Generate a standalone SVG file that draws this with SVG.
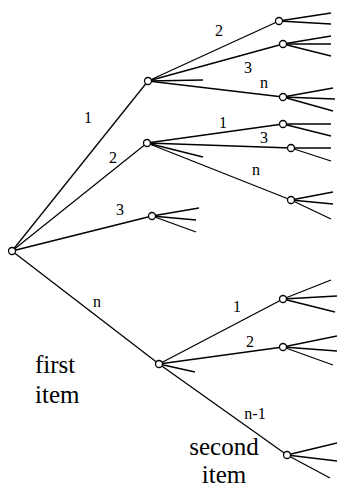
<svg xmlns="http://www.w3.org/2000/svg" width="337" height="489" viewBox="0 0 337 489">
<style>
line{stroke:#000;stroke-width:1.3;fill:none}
circle{fill:#fff;stroke:#000;stroke-width:1.3}
text{font-family:Liberation Serif, Times New Roman, Times, Tinos, Noto Serif, DejaVu Serif, serif;fill:#000}
.lb{font-size:16px;text-anchor:middle}
.big{font-size:25px}
</style>
<rect width="337" height="489" fill="#fff"/>
<g id="connectors">
<line x1="12" y1="251" x2="148" y2="81"/>
<line x1="12" y1="251" x2="147" y2="143"/>
<line x1="12" y1="251" x2="152" y2="216"/>
<line x1="12" y1="251" x2="159" y2="364"/>
<line x1="148" y1="81" x2="279" y2="21"/>
<line x1="148" y1="81" x2="283" y2="44"/>
<line x1="148" y1="81" x2="203" y2="80"/>
<line x1="148" y1="81" x2="283" y2="97"/>
<line x1="147" y1="143" x2="283" y2="124"/>
<line x1="147" y1="143" x2="291" y2="148"/>
<line x1="147" y1="143" x2="203" y2="157"/>
<line x1="147" y1="143" x2="291" y2="200"/>
<line x1="152" y1="216" x2="199" y2="208"/>
<line x1="152" y1="216" x2="196" y2="220"/>
<line x1="152" y1="216" x2="196" y2="232"/>
<line x1="159" y1="364" x2="283" y2="299"/>
<line x1="159" y1="364" x2="283" y2="347"/>
<line x1="159" y1="364" x2="195" y2="372"/>
<line x1="159" y1="364" x2="287" y2="455"/>
<line x1="279" y1="21" x2="331" y2="13"/>
<line x1="279" y1="21" x2="331" y2="24"/>
<line x1="283" y1="44" x2="331" y2="36"/>
<line x1="283" y1="44" x2="331" y2="44"/>
<line x1="283" y1="44" x2="331" y2="56"/>
<line x1="283" y1="97" x2="333" y2="88"/>
<line x1="283" y1="97" x2="335" y2="99"/>
<line x1="283" y1="97" x2="333" y2="111"/>
<line x1="283" y1="124" x2="331" y2="124"/>
<line x1="283" y1="124" x2="331" y2="136"/>
<line x1="291" y1="148" x2="331" y2="148"/>
<line x1="291" y1="148" x2="331" y2="161"/>
<line x1="291" y1="200" x2="333" y2="192"/>
<line x1="291" y1="200" x2="333" y2="204"/>
<line x1="291" y1="200" x2="331" y2="219"/>
<line x1="283" y1="299" x2="331" y2="280"/>
<line x1="283" y1="299" x2="337" y2="296"/>
<line x1="283" y1="299" x2="335" y2="312"/>
<line x1="283" y1="347" x2="337" y2="336"/>
<line x1="283" y1="347" x2="337" y2="351"/>
<line x1="283" y1="347" x2="333" y2="365"/>
<line x1="287" y1="455" x2="337" y2="443"/>
<line x1="287" y1="455" x2="337" y2="461"/>
<line x1="287" y1="455" x2="330" y2="478"/>
</g>
<g id="root"><circle cx="12" cy="251" r="3.5"/></g>
<g id="n1"><circle cx="148" cy="81" r="3.5"/></g>
<g id="n2"><circle cx="147" cy="143" r="3.5"/></g>
<g id="n3"><circle cx="152" cy="216" r="3.5"/></g>
<g id="nn"><circle cx="159" cy="364" r="3.5"/></g>
<g id="n12"><circle cx="279" cy="21" r="3.5"/></g>
<g id="n13"><circle cx="283" cy="44" r="3.5"/></g>
<g id="n1n"><circle cx="283" cy="97" r="3.5"/></g>
<g id="n21"><circle cx="283" cy="124" r="3.5"/></g>
<g id="n23"><circle cx="291" cy="148" r="3.5"/></g>
<g id="n2n"><circle cx="291" cy="200" r="3.5"/></g>
<g id="nn1"><circle cx="283" cy="299" r="3.5"/></g>
<g id="nn2"><circle cx="283" cy="347" r="3.5"/></g>
<g id="nnn1"><circle cx="287" cy="455" r="3.5"/></g>
<g id="labels">
<text class="lb" x="88" y="123">1</text>
<text class="lb" x="113" y="163">2</text>
<text class="lb" x="120" y="215">3</text>
<text class="lb" x="97" y="307">n</text>
<text class="lb" x="219" y="36">2</text>
<text class="lb" x="248" y="73">3</text>
<text class="lb" x="264" y="88">n</text>
<text class="lb" x="223" y="128">1</text>
<text class="lb" x="264" y="143">3</text>
<text class="lb" x="256" y="175">n</text>
<text class="lb" x="237" y="312">1</text>
<text class="lb" x="250" y="347">2</text>
<text class="lb" x="255" y="419">n-1</text>
<text class="big" x="35" y="373">first</text>
<text class="big" x="35" y="403">item</text>
<text class="big" x="224" y="455" text-anchor="middle">second</text>
<text class="big" x="224" y="483" text-anchor="middle">item</text>
</g>
</svg>
